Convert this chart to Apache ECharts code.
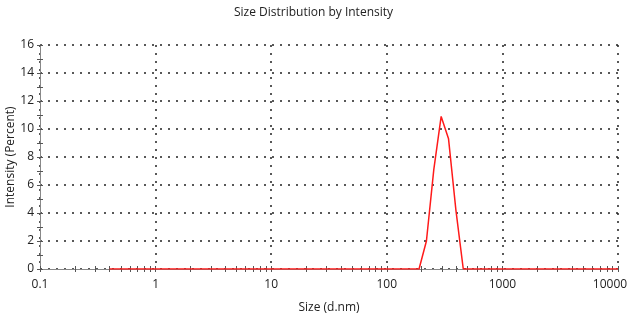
<!DOCTYPE html>
<html>
<head>
<meta charset="utf-8">
<script src="https://cdn.jsdelivr.net/npm/echarts@6/dist/echarts.min.js"></script>
<style>
  html, body { margin: 0; padding: 0; background: #fff; }
  #chart { width: 627px; height: 314px; }
</style>
</head>
<body>
<div id="chart"></div>
<script>
// size bins (d.nm), Zetasizer-style log spacing
const sizes = [
  0.4, 0.4632, 0.5365, 0.6213, 0.7195, 0.8332, 0.9649, 1.117, 1.294, 1.499,
  1.736, 2.010, 2.328, 2.696, 3.122, 3.615, 4.187, 4.849, 5.615, 6.503,
  7.531, 8.721, 10.10, 11.70, 13.54, 15.69, 18.17, 21.04, 24.36, 28.21,
  32.67, 37.84, 43.82, 50.75, 58.77, 68.06, 78.82, 91.28, 105.7, 122.4,
  141.8, 164.2, 190.1, 220.2, 255.0, 295.3, 342.0, 396.1, 458.7, 531.2,
  615.1, 712.4, 825.0, 955.4, 1106, 1281, 1484, 1718, 1990, 2305,
  2669, 3091, 3580, 4145, 4801, 5560, 6439, 7456, 8635, 10000
];
const intensity = [
  0, 0, 0, 0, 0, 0, 0, 0, 0, 0,
  0, 0, 0, 0, 0, 0, 0, 0, 0, 0,
  0, 0, 0, 0, 0, 0, 0, 0, 0, 0,
  0, 0, 0, 0, 0, 0, 0, 0, 0, 0,
  0, 0, 0, 2.0, 7.1, 10.9, 9.3, 4.2, 0, 0,
  0, 0, 0, 0, 0, 0, 0, 0, 0, 0,
  0, 0, 0, 0, 0, 0, 0, 0, 0, 0
];
const xTickLabels = ['0.1', '1', '10', '100', '1000', '10000'];
const yTicks = [0, 2, 4, 6, 8, 10, 12, 14, 16];

const xDecades = xTickLabels.map(Number);
// log tick positions: decades plus 2..9 within each
const xTickValues = [];
xDecades.forEach((base, i) => {
  xTickValues.push(base);
  if (i < xDecades.length - 1) {
    for (let m = 2; m <= 9; m++) xTickValues.push(+(base * m).toPrecision(6));
  }
});

const chart = echarts.init(document.getElementById('chart'));
const font = 'Open Sans, sans-serif';
const tickColor = '#555';
const textColor = '#222';

function xTickAxis(inside) {
  return {
    type: 'log',
    logBase: 10,
    min: 0.1,
    max: 10000,
    position: 'bottom',
    axisLine: { show: false },
    axisTick: {
      show: true, inside: inside, length: 3, customValues: xTickValues,
      lineStyle: { color: tickColor }
    },
    minorTick: { show: false },
    axisLabel: { show: false },
    splitLine: { show: false }
  };
}

const xMain = {
  type: 'log',
  logBase: 10,
  min: 0.1,
  max: 10000,
  position: 'bottom',
  name: 'Size (d.nm)',
  nameLocation: 'middle',
  nameGap: 33,
  nameMoveOverlap: false,
  nameTextStyle: { fontFamily: font, fontSize: 12, color: textColor },
  axisLine: { show: true, lineStyle: { color: '#888', width: 1 } },
  axisTick: { show: true, length: 3, customValues: xDecades, lineStyle: { color: tickColor } },
  minorTick: { show: false },
  axisLabel: {
    fontFamily: font, fontSize: 12, color: textColor, margin: 10,
    customValues: xDecades,
    formatter: (v) => {
      const i = Math.round(Math.log10(v)) + 1;
      if (xTickLabels[i] === undefined) return '';
      return i === xTickLabels.length - 1 ? '{last|' + xTickLabels[i] + '}' : xTickLabels[i];
    },
    rich: {
      last: { fontFamily: font, fontSize: 12, color: textColor, padding: [0, 16, 0, 0] }
    }
  },
  splitLine: { show: true, lineStyle: { type: [2, 6], color: '#222', width: 1.5 } }
};

function yAxisBase(inside) {
  return {
    type: 'value',
    min: 0,
    max: 16,
    interval: 2,
    position: 'left',
    axisLine: { show: !inside, lineStyle: { color: '#888', width: 1 } },
    axisTick: { show: true, inside: inside, length: 3, lineStyle: { color: tickColor } },
    minorTick: { show: true, splitNumber: 2, length: 3, lineStyle: { color: tickColor } }
  };
}

const yMain = Object.assign(yAxisBase(false), {
  name: 'Intensity (Percent)',
  nameLocation: 'middle',
  nameGap: 23,
  nameMoveOverlap: false,
  nameTextStyle: { fontFamily: font, fontSize: 12, color: textColor },
  axisLabel: {
    fontFamily: font, fontSize: 12, color: textColor, margin: 6,
    formatter: (v) => yTicks.indexOf(v) >= 0 ? String(v) : ''
  },
  splitLine: { show: true, lineStyle: { type: [2, 6], color: '#222', width: 1.5 } }
});
const yInner = Object.assign(yAxisBase(true), {
  axisLabel: { show: false },
  splitLine: { show: false }
});

const option = {
  animation: false,
  title: {
    text: 'Size Distribution by Intensity',
    left: 'center',
    top: 2,
    textStyle: { fontFamily: font, fontSize: 12, fontWeight: 'normal', color: textColor }
  },
  grid: { left: 40, right: 9, top: 45, bottom: 45, outerBoundsMode: 'none' },
  xAxis: [xMain, xTickAxis(false), xTickAxis(true)],
  yAxis: [yMain, yInner],
  series: [{
    type: 'line',
    data: sizes.map((s, i) => [s, intensity[i]]),
    showSymbol: false,
    lineStyle: { color: '#ff1a1a', width: 1.5 },
    z: 3
  }]
};

chart.setOption(option);
</script>
</body>
</html>
